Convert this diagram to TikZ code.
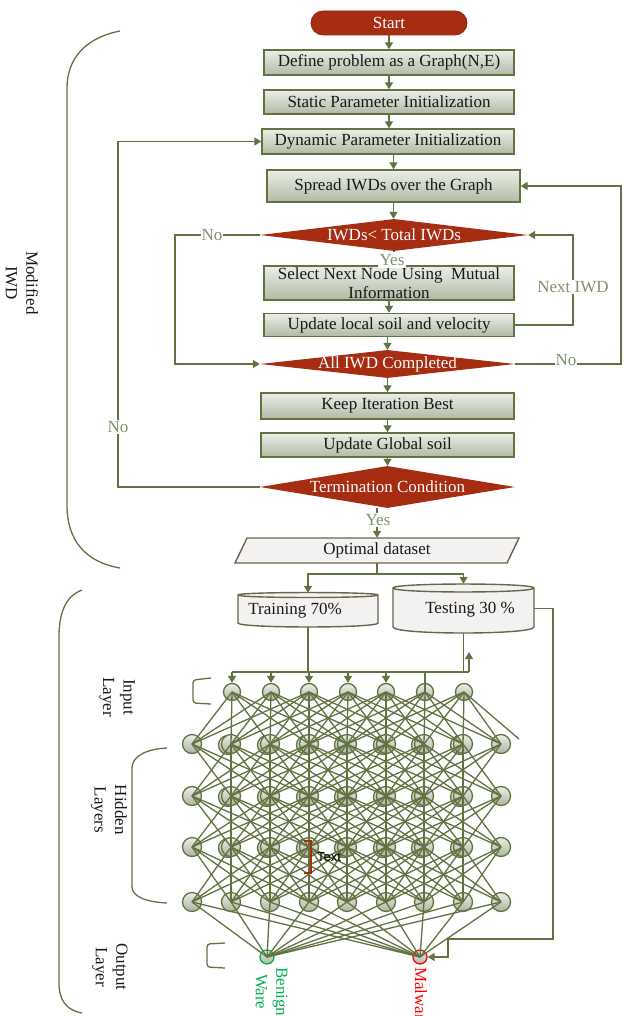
\documentclass[tikz,border=0pt]{standalone}
\usepackage{fontspec}
\setmainfont{Liberation Serif}
\newfontfamily\lsans{Liberation Sans}
\usetikzlibrary{arrows.meta,shapes.geometric}
\definecolor{lnC}{RGB}{98,114,66}
\definecolor{lblC}{RGB}{128,146,108}
\definecolor{redC}{RGB}{166,44,18}
\definecolor{redD}{RGB}{140,36,14}
\definecolor{boxTop}{RGB}{236,238,232}
\definecolor{boxBot}{RGB}{176,186,164}
\definecolor{nTop}{RGB}{236,238,232}
\definecolor{nBot}{RGB}{170,180,160}
\definecolor{dataFill}{RGB}{243,242,240}
\definecolor{dataLine}{RGB}{105,102,76}
\definecolor{benC}{RGB}{0,176,80}
\definecolor{malC}{RGB}{255,0,0}
\definecolor{txtC}{RGB}{25,25,25}
\newcommand{\fsz}{\fontsize{17}{20.5}\selectfont}
\begin{document}
\begin{tikzpicture}[x=1pt,y=-1pt,
 box/.style={rectangle, draw=lnC, line width=1.4pt, top color=boxTop, bottom color=boxBot, inner sep=0pt, font=\fsz, text=txtC, align=center},
 dmd/.style={diamond, fill=redC, inner sep=0pt, font=\fsz, text=white, shape aspect=2},
 ln/.style={draw=lnC, line width=1.4pt},
 arr/.style={ln, -{Triangle[length=7pt,width=8pt]}},
 lbl/.style={font=\fsz, text=lblC, fill=white, inner sep=1pt},
 rlbl/.style={font=\fsz, rotate=-90, align=center, text=txtC},
 nn/.style={circle, draw=lnC, line width=1.3pt, top color=nTop, bottom color=nBot, inner sep=0pt, minimum size=19pt},
 nl/.style={draw=lnC, line width=1.3pt},
 dat/.style={draw=dataLine, fill=dataFill, line width=1.4pt},
 brc/.style={draw=lnC, line width=1.3pt},
]
\useasboundingbox (0,0) rectangle (623,1016);

% ---------- flowchart ----------
\node[rectangle, rounded corners=12pt, fill=redC, draw=redD, line width=0.8pt, minimum width=156pt, minimum height=24pt, inner sep=0pt, font=\fsz, text=white] (start) at (389,23) {Start};
\node[box, minimum width=250pt, minimum height=25pt] (define) at (389,62.5) {Define problem as a Graph(N,E)};
\node[box, minimum width=250pt, minimum height=24pt] (static) at (389,102) {Static Parameter Initialization};
\node[box, minimum width=252pt, minimum height=25pt] (dynamic) at (388,141.5) {Dynamic Parameter Initialization};
\node[box, minimum width=253pt, minimum height=32pt] (spread) at (393.5,186) {Spread IWDs over the Graph};
\node[dmd, minimum width=268pt, minimum height=32pt] (d1) at (394,235) {\makebox[0pt]{IWDs< Total IWDs}};
\node[box, minimum width=250pt, minimum height=34pt] (select) at (389,283) {Select Next Node Using\ \ Mutual\\[-1pt]Information};
\node[box, minimum width=250pt, minimum height=23pt] (local) at (389,325) {Update local soil and velocity};
\node[dmd, minimum width=255pt, minimum height=28pt] (d2) at (387.5,364) {\makebox[0pt]{All IWD Completed}};
\node[box, minimum width=253pt, minimum height=26pt] (keep) at (387.5,406) {Keep Iteration Best};
\node[box, minimum width=253pt, minimum height=24pt] (global) at (387.5,445) {Update Global soil};
\node[dmd, minimum width=255pt, minimum height=42pt] (term) at (387.5,487) {\makebox[0pt]{Termination Condition}};

\draw[dat] (247,538) -- (519,538) -- (507,563) -- (235,563) -- cycle;
\node[minimum width=272pt, minimum height=25pt, inner sep=0pt, font=\fsz, text=txtC] (opt) at (377,550.5) {Optimal dataset};

% cylinders
\draw[dat] (238,595) -- (238,623) .. controls (238,628.3) and (378,628.3) .. (378,623) -- (378,595) .. controls (378,591.7) and (238,591.7) .. cycle;
\draw[dat] (238,595) .. controls (238,598.3) and (378,598.3) .. (378,595);
\node[minimum width=140pt, minimum height=34pt, inner sep=0pt] (train) at (308,610) {};
\node[font=\fsz, text=txtC, inner sep=0pt] (trainT) at (295,611) {Training 70\%};

\draw[dat] (393,588) -- (393,627) .. controls (393,635) and (534,635) .. (534,627) -- (534,588) .. controls (534,582.7) and (393,582.7) .. cycle;
\draw[dat] (393,588) .. controls (393,593.3) and (534,593.3) .. (534,588);
\node[minimum width=141pt, minimum height=49pt, inner sep=0pt] (test) at (463.5,608.5) {};
\node[font=\fsz, text=txtC, inner sep=0pt] (testT) at (470,610) {Testing 30 \%};

% straight arrows
\draw[arr] (start) -- (define);
\draw[arr] (define) -- (static);
\draw[arr] (static.south) -- (static.south |- dynamic.north);
\draw[arr] (dynamic.south -| spread.north) -- (spread.north);
\draw[arr] (spread.south) -- (spread.south |- d1.north);
\draw[arr] (d1.south) -- (d1.south |- select.north);
\draw[arr] (select) -- (local);
\draw[arr] (local.south -| d2.north) -- (d2.north);
\draw[arr] (d2.south) -- (d2.south |- keep.north);
\draw[arr] (keep) -- (global);
\draw[arr] (global.south) -- (term.north);
\draw[arr] (opt.north |- term.south) -- (opt.north);

% loops
\draw[arr] (d1.west) -- (175,235) |- (d2.west);
\draw[arr] (local.east) -- (573,325) -- (573,235) -- (d1.east);
\draw[arr] (d2.east) -- (621,364) -- (621,186) -- (spread.east);
\draw[arr] (term.west) -- (118,487) -- (118,141.5) -- (dynamic.west);

\node[lbl] (no1) at (212,235) {No};
\node[lbl, inner sep=2pt] (yes1) at (392,260) {Yes};
\node[lbl] (nextiwd) at (573,287) {Next IWD};
\node[lbl] (no2) at (566,360) {No};
\node[lbl] (no3) at (118,427) {No};
\node[lbl] (yes2) at (378,520) {Yes};

% dataset split
\coordinate (sp) at (377,574);
\draw[ln] (opt.south) -- (sp);
\draw[arr] (sp) -| (train.north);
\draw[arr] (sp) -| (test.north);

% ---------- neural network ----------
\foreach \x [count=\i from 0] in {232,271,309,348,386,425,464}
  \node[nn, minimum size=17pt] (in-\i) at (\x,692) {};
\foreach \y [count=\l] in {744,796,847} {
  \foreach \x [count=\j from 1] in {231,270,309,347,386,424,463}
    \node[nn] (g\l-\j) at (\x-3,\y+1) {};
}
\foreach \y [count=\l] in {744,796,847,902} {
  \foreach \x [count=\j from 0] in {192,231,270,309,347,386,424,463,501}
    \node[nn] (h\l-\j) at (\x,\y) {};
}
\node[circle, draw=benC, line width=1.3pt, top color=nTop, bottom color=nBot, inner sep=0pt, minimum size=14pt] (ben) at (267,957) {};
\node[circle, draw=malC, line width=1.3pt, top color=nTop, bottom color=nBot, inner sep=0pt, minimum size=14pt] (mal) at (420,957) {};

\coordinate (edgeR) at (519,739);
\foreach \i in {0,...,6} {
  \foreach \j in {0,...,8} {
    \pgfmathtruncatemacro\dd{abs(\j-\i-1)}
    \ifnum\dd<4 \draw[nl] (in-\i.center) -- (h1-\j.center); \fi
  }
}
\draw[nl] (in-6.center) -- (edgeR);
\foreach \l/\m in {1/2,2/3,3/4} {
  \foreach \i in {0,...,8} {
    \foreach \j in {0,...,8} {
      \pgfmathtruncatemacro\dd{abs(\j-\i)}
      \pgfmathtruncatemacro\edge{(\i==0 || \i==8) ? 1 : 0}
      \ifnum\dd<4
        \ifnum\dd=0
          \ifnum\edge=0 \draw[nl] (h\l-\i.center) -- (h\m-\j.center); \fi
        \else
          \draw[nl] (h\l-\i.center) -- (h\m-\j.center);
        \fi
      \fi
    }
  }
}
\foreach \i in {0,...,8} {
  \draw[nl] (h4-\i.center) -- (ben.center);
  \draw[nl] (h4-\i.center) -- (mal.center);
}

% feed bus into input layer
\coordinate (busL) at (232,672);
\coordinate (busR) at (469,672);
\coordinate (upT) at (469,652);
\draw[ln] (busL) -- (busR);
\draw[arr] (busR) -- (upT);
\draw[ln] (train.south) -- (train.south |- busL);
\draw[ln] (test.south) -- (test.south |- busL);
\foreach \i in {0,...,4}
  \draw[arr] (in-\i |- busL) -- (in-\i.north);
\draw[ln] (in-5 |- busL) -- (in-5.center);

% testing to malware
\draw[arr] (test.east) -- (553,608.5) |- (448,939) |- (mal.east);

% output labels
\node[font=\fsz, rotate=-90, anchor=west, align=center, text=benC, inner sep=0pt] (benT) at (271.5,967) {Benign\\Ware};
\node[font=\fsz, rotate=-90, anchor=west, text=malC, inner sep=0pt] (malT) at (421,967) {Malware};

% text marker
\draw[draw=redC, line width=1.4pt] (304,841) -- (311,841) -- (311,873) -- (304,873);
\node[font=\lsans\fontsize{13}{15}\selectfont, text=black, inner sep=0pt] (txt) at (329,857) {Text};

% ---------- braces and side labels ----------
\draw[brc] (120,31) .. controls (84,38) and (67,60) .. (67,88) -- (67,505) .. controls (67,540) and (85,562) .. (120,568);
\node[rlbl] (modT) at (22,283) {Modified\\IWD};

\draw[brc] (82,590) .. controls (66,596) and (59,612) .. (59,637) -- (59,983) .. controls (59,1000) and (66,1010) .. (82,1013);
\draw[brc, rounded corners=3pt] (211,678) -- (193,680) -- (193,703) -- (211,704);
\node[rlbl] (inT) at (117,697) {Input\\Layer};
\draw[brc] (167,748) .. controls (145,749) and (132,757) .. (132,768) -- (132,887) .. controls (132,896) and (145,902) .. (167,903);
\node[rlbl] (hidT) at (109,810) {Hidden\\Layers};
\draw[brc, rounded corners=3pt] (225,943) -- (207,944) -- (207,967) -- (225,968);
\node[rlbl] (outT) at (110,967) {Output\\Layer};
\end{tikzpicture}
\end{document}
